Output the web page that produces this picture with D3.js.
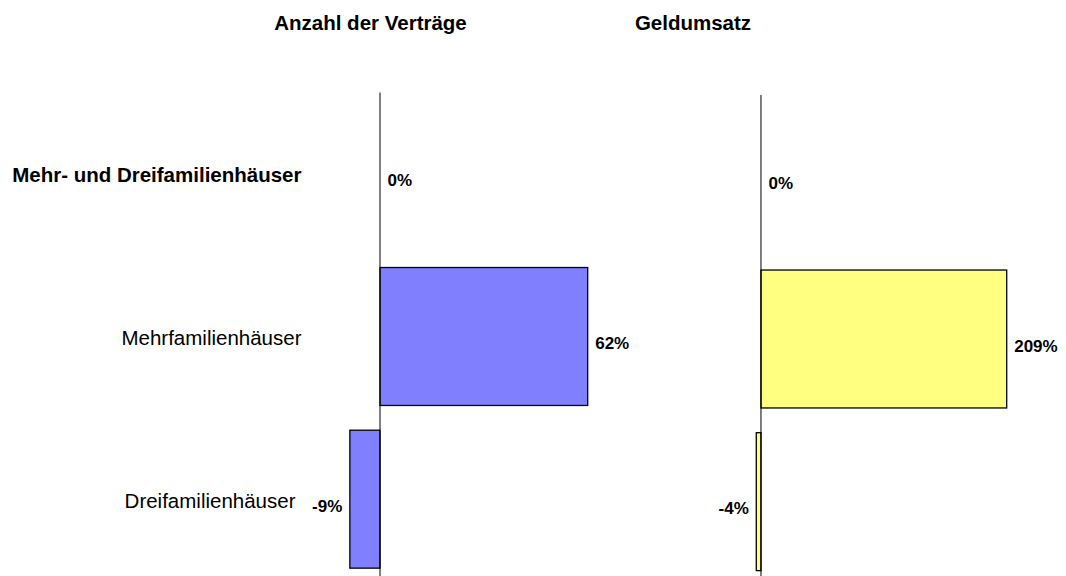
<!DOCTYPE html>
<html>
<head>
<meta charset="utf-8">
<script src="https://cdn.jsdelivr.net/npm/d3@7"></script>
<style>
  body { margin: 0; background: #fff; }
  text { font-family: "Liberation Sans", Arial, sans-serif; fill: #000; }
</style>
</head>
<body>
<div id="chart"></div>
<script>
const categories = ["Mehr- und Dreifamilienhäuser", "Mehrfamilienhäuser", "Dreifamilienhäuser"];
const vertraege = [0, 62, -9];
const geldumsatz = [0, 209, -4];
const titles = ["Anzahl der Verträge", "Geldumsatz"];

const width = 1066, height = 576;

const svg = d3.select("#chart")
    .append("svg")
    .attr("width", width)
    .attr("height", height);

const panels = [
    {title: titles[0], values: vertraege, fill: "#8080ff",
     x: d3.scaleLinear().domain([-10, 70]).range([346.5, 614.5]),
     yRange: [92.5, 580.5], titleX: 370.5},
    {title: titles[1], values: geldumsatz, fill: "#ffff80",
     x: d3.scaleLinear().domain([-50, 250]).range([702.2, 1054.9]),
     yRange: [95, 583], titleX: 693}
];

// category labels (shared, bold for the total row)
const yLab = d3.scaleBand()
    .domain(categories)
    .range(panels[0].yRange)
    .paddingInner(0.152)
    .paddingOuter(0.076);

svg.selectAll("text.cat")
    .data(categories)
    .enter()
    .append("text")
    .attr("class", "cat")
    // nudge left where the negative value label sits next to it
    .attr("x", (d, i) => vertraege[i] < 0 ? 295.5 : 301.5)
    .attr("y", d => yLab(d) + yLab.bandwidth() / 2 + 8.5)
    .attr("text-anchor", "end")
    .style("font-size", "20.5px")
    .style("font-weight", (d, i) => i === 0 ? "bold" : "normal")
    .text(d => d);

panels.forEach(p => {
    const y = d3.scaleBand()
        .domain(categories)
        .range(p.yRange)
        .paddingInner(0.152)
        .paddingOuter(0.076);

    const rows = categories.map((c, i) => ({cat: c, v: p.values[i]}));

    svg.append("text")
        .attr("x", p.titleX)
        .attr("y", 30)
        .attr("text-anchor", "middle")
        .style("font-size", "20.5px")
        .style("font-weight", "bold")
        .text(p.title);

    const g = svg.append("g");

    g.selectAll("rect")
        .data(rows.filter(d => d.v !== 0))
        .enter()
        .append("rect")
        .attr("x", d => p.x(Math.min(0, d.v)))
        .attr("y", d => y(d.cat))
        .attr("width", d => Math.abs(p.x(d.v) - p.x(0)))
        .attr("height", y.bandwidth())
        .attr("fill", p.fill)
        .attr("stroke", "#000")
        .attr("stroke-width", 1.3);

    g.append("line")
        .attr("x1", p.x(0)).attr("x2", p.x(0))
        .attr("y1", p.yRange[0]).attr("y2", p.yRange[1])
        .attr("stroke", "#000")
        .attr("stroke-width", 1);

    g.selectAll("text.val")
        .data(rows)
        .enter()
        .append("text")
        .attr("class", "val")
        .attr("x", d => d.v < 0 ? p.x(d.v) - 7.5 : p.x(d.v) + 7.5)
        .attr("y", d => y(d.cat) + y.bandwidth() / 2 + 12.5)
        .attr("text-anchor", d => d.v < 0 ? "end" : "start")
        .style("font-size", "17px")
        .style("font-weight", "bold")
        .text(d => d.v + "%");
});
</script>
</body>
</html>
